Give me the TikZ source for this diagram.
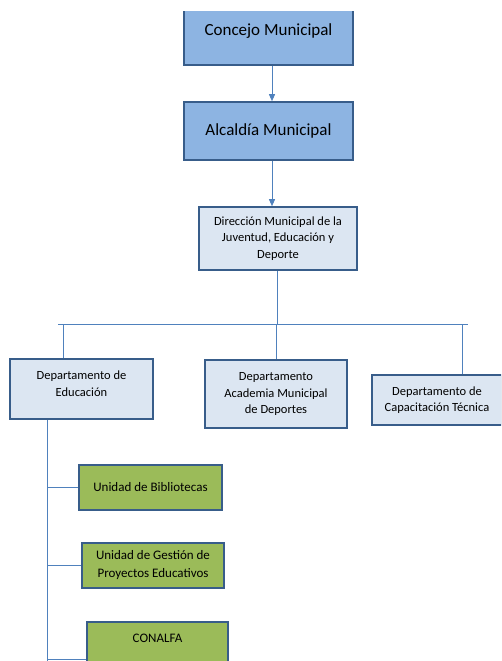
\documentclass[tikz,border=0pt]{standalone}
\usepackage{fontspec}
\setmainfont{Carlito}
\usetikzlibrary{arrows.meta, math}
\definecolor{topblue}{RGB}{141,180,226}
\definecolor{paleblue}{RGB}{220,230,242}
\definecolor{unitgreen}{RGB}{155,187,89}
\definecolor{edgeblue}{RGB}{56,93,138}
\definecolor{lineblue}{RGB}{79,129,189}

\begin{document}
\begin{tikzpicture}[x=1pt,y=-1pt,
  box/.style={draw=edgeblue, line width=1.6pt, align=center, inner sep=2pt},
  topbox/.style={box, fill=topblue, font=\fontsize{17}{20}\selectfont},
  deptbox/.style={box, fill=paleblue, font=\fontsize{12.5}{16.5}\selectfont},
  unitbox/.style={box, fill=unitgreen, font=\fontsize{13}{18}\selectfont},
  link/.style={draw=lineblue, line width=0.9pt},
  arr/.style={link, -{Triangle[length=7pt,width=6pt]}}]
\tikzmath{
\bus=324;%height of the horizontal bar
\spine=47;%x of the line under Educacion
}
\useasboundingbox (0,0) rectangle (501,661);
\clip (0,12) rectangle (501,661);

\node[topbox, minimum width=169pt, minimum height=67pt] (concejo) at (268.5,31.5) {Concejo Municipal};
\node[topbox, minimum width=169pt, minimum height=58pt] (alcaldia) at (268.5,131) {Alcaldía Municipal};
\node[deptbox, minimum width=158pt, minimum height=63pt] (direccion) at (278,238.5) {Dirección Municipal de la\\Juventud, Educación y\\Deporte};

\node[deptbox, minimum width=143pt, minimum height=60pt] (educacion) at (81.5,389) {Departamento de\\Educación\\[-6pt]};
\node[deptbox, minimum width=142pt, minimum height=68pt] (academia) at (276,394) {Departamento\\Academia Municipal\\de Deportes};
\node[deptbox, minimum width=130pt, minimum height=50pt] (capacitacion) at (437,400) {Departamento de\\Capacitación Técnica};

\node[unitbox, minimum width=143pt, minimum height=45pt] (bibliotecas) at (150.5,487.5) {Unidad de Bibliotecas};
\node[unitbox, minimum width=142pt, minimum height=45pt] (gestion) at (153,565.5) {Unidad de Gestión de\\Proyectos Educativos};
\node[unitbox, minimum width=141pt, minimum height=46pt, text depth=14pt] (conalfa) at (157.5,645) {CONALFA};

\draw[arr] (concejo.south -| 272,0) -- (alcaldia.north -| 272,0);
\draw[arr] (alcaldia.south -| 272,0) -- (direccion.north -| 272,0);

% horizontal bar
\coordinate (b1) at (63,\bus);
\coordinate (b2) at (276,\bus);
\coordinate (b3) at (462,\bus);
\draw[link] (direccion.south -| b2) ++(1,0) -- ++(0,\bus-270);
\draw[link] (58,\bus) -- (468,\bus);
\draw[link] (b1) -- (b1 |- educacion.north);
\draw[link] (b2) -- (b2 |- academia.north);
\draw[link] (b3) -- (b3 |- capacitacion.north);

% units under Educacion
\coordinate (u3) at (\spine,659);
\draw[link] (educacion.south -| u3) -- (\spine,670);
\draw[link] (u3 |- bibliotecas.west) -- (bibliotecas.west);
\draw[link] (u3 |- gestion.west) -- (gestion.west);
\draw[link] (u3) -- (u3 -| conalfa.west);
\end{tikzpicture}
\end{document}
